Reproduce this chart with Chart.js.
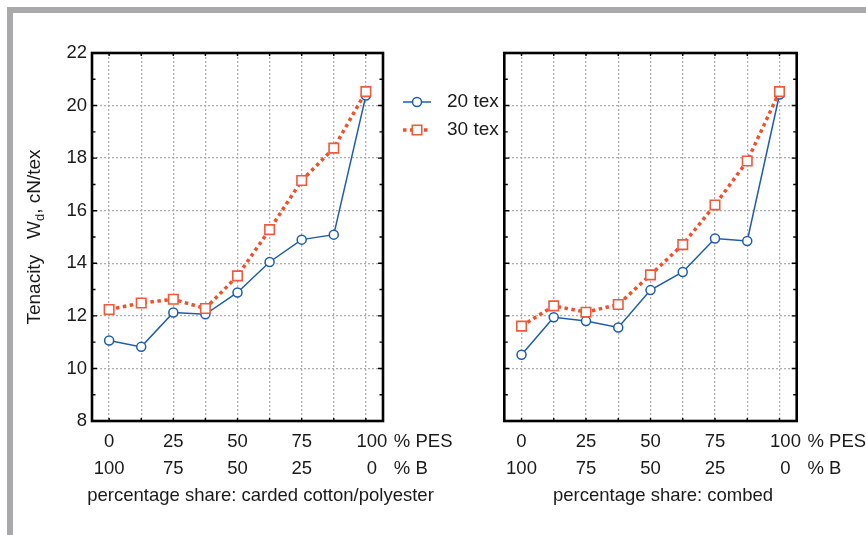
<!DOCTYPE html>
<html>
<head>
<meta charset="utf-8">
<script src="https://cdn.jsdelivr.net/npm/chart.js@4.4.0/dist/chart.umd.min.js"></script>
<style>
  body { margin: 0; background: #fff; width: 866px; height: 535px; overflow: hidden; position: relative; }
  #frame { position: absolute; left: 7px; top: 7px; width: 860px; height: 530px; border-left: 6px solid #a9a9ab; border-top: 6px solid #a9a9ab; }
  #c1 { position: absolute; left: 0; top: 0; }
  #c2 { position: absolute; left: 440px; top: 0; }
</style>
</head>
<body>
<div id="frame"></div>
<canvas id="c1" width="505" height="535"></canvas>
<canvas id="c2" width="426" height="535"></canvas>
<script>
// % PES share of each blend
const shares = [0, 12.5, 25, 37.5, 50, 62.5, 75, 87.5, 100];

// tenacity, cN/tex
const cardedTex20 = [11.06, 10.82, 12.13, 12.06, 12.89, 14.05, 14.90, 15.09, 20.38];
const cardedTex30 = [12.24, 12.49, 12.63, 12.28, 13.52, 15.28, 17.15, 18.38, 20.53];
const combedTex20 = [10.52, 11.95, 11.80, 11.56, 12.98, 13.67, 14.94, 14.85, 20.42];
const combedTex30 = [11.61, 12.38, 12.14, 12.43, 13.56, 14.71, 16.22, 17.89, 20.53];

// axis labels
const labelShares = [0, 25, 50, 75, 100];
const pesLabels = ['0', '25', '50', '75', '100'];
const bLabels = ['100', '75', '50', '25', '0'];
const yTicks = [8, 10, 12, 14, 16, 18, 20, 22];

const BLUE = '#1d5cae';
const RED = '#f2502a';
const FONT = '"Liberation Sans", Arial, sans-serif';
const TEXT = '#1a1a1a';

const points = (vals) => shares.map((s, i) => ({ x: s, y: vals[i] }));

// box, inward ticks, labels, legend
const frame = {
  id: 'frame',
  afterDraw(chart, args, opts) {
    const { ctx, chartArea: a, scales: { x, y } } = chart;
    ctx.save();
    ctx.strokeStyle = '#000';
    ctx.lineWidth = 1.4;
    ctx.beginPath();
    for (let v = 9; v < 22; v++) {
      const py = y.getPixelForValue(v);
      const len = v % 2 === 0 ? 5 : 3.5;
      ctx.moveTo(a.left, py); ctx.lineTo(a.left + len, py);
      ctx.moveTo(a.right, py); ctx.lineTo(a.right - len, py);
    }
    shares.forEach((v) => {
      const px = x.getPixelForValue(v);
      ctx.moveTo(px, a.top); ctx.lineTo(px, a.top + 3);
      ctx.moveTo(px, a.bottom); ctx.lineTo(px, a.bottom - 3);
    });
    ctx.stroke();

    ctx.lineWidth = 2.6;
    ctx.strokeRect(a.left, a.top, a.right - a.left, a.bottom - a.top);

    ctx.fillStyle = TEXT;
    ctx.font = '18.5px ' + FONT;
    ctx.textBaseline = 'middle';

    // y tick labels
    if (opts.yLabels) {
      ctx.textAlign = 'right';
      yTicks.forEach((v) => ctx.fillText(String(v), a.left - 5, y.getPixelForValue(v)));
    }

    // x tick labels, two rows
    ctx.textAlign = 'center';
    labelShares.forEach((v, i) => {
      const px = x.getPixelForValue(v) + (v === 100 ? 6 : 0);
      ctx.fillText(pesLabels[i], px, a.bottom + 21);
      ctx.fillText(bLabels[i], px, a.bottom + 48);
    });
    ctx.textAlign = 'left';
    const px100 = x.getPixelForValue(100);
    ctx.fillText('% PES', px100 + 28, a.bottom + 21);
    ctx.fillText('% B', px100 + 28, a.bottom + 48);

    // x title
    ctx.textAlign = 'center';
    ctx.fillText(opts.xTitle, (a.left + a.right) / 2 + opts.titleShift, a.bottom + 75);

    // y title with subscript
    if (opts.yLabels) {
      ctx.save();
      ctx.translate(35, (a.top + a.bottom) / 2);
      ctx.rotate(-Math.PI / 2);
      ctx.textAlign = 'left';
      const p1 = 'Tenacity   W', p2 = 'd', p3 = ', cN/tex';
      ctx.font = '19px ' + FONT;
      const w1 = ctx.measureText(p1).width, w3 = ctx.measureText(p3).width;
      ctx.font = '13px ' + FONT;
      const w2 = ctx.measureText(p2).width;
      const sx = -(w1 + w2 + w3) / 2;
      ctx.font = '19px ' + FONT;
      ctx.fillText(p1, sx, 0);
      ctx.font = '13px ' + FONT;
      ctx.fillText(p2, sx + w1, 5);
      ctx.font = '19px ' + FONT;
      ctx.fillText(p3, sx + w1 + w2, 0);
      ctx.restore();
    }

    // legend
    if (opts.legend) {
      const lx = 403, lw = 28, tx = 447;
      const rows = [
        { label: '20 tex', y: 102, ds: chart.data.datasets[1] },
        { label: '30 tex', y: 130, ds: chart.data.datasets[0] }
      ];
      rows.forEach((r) => {
        ctx.save();
        ctx.strokeStyle = r.ds.borderColor;
        ctx.lineWidth = r.ds.borderWidth;
        ctx.setLineDash(r.ds.borderDash || []);
        ctx.beginPath();
        ctx.moveTo(lx, r.y); ctx.lineTo(lx + lw, r.y);
        ctx.stroke();
        ctx.setLineDash([]);
        ctx.fillStyle = '#fff';
        ctx.strokeStyle = r.ds.pointBorderColor;
        ctx.lineWidth = r.ds.pointBorderWidth;
        Chart.helpers.drawPoint(ctx, {
          pointStyle: r.ds.pointStyle, radius: r.ds.pointRadius, rotation: 0, borderWidth: r.ds.pointBorderWidth
        }, lx + lw / 2, r.y);
        ctx.restore();
        ctx.fillStyle = TEXT;
        ctx.font = '19px ' + FONT;
        ctx.textAlign = 'left';
        ctx.fillText(r.label, tx, r.y);
      });
    }
    ctx.restore();
  }
};

function makeChart(id, tex20, tex30, opts) {
  return new Chart(document.getElementById(id), {
    type: 'line',
    data: {
      datasets: [
        {
          label: '30 tex',
          data: points(tex30),
          borderColor: RED,
          borderWidth: 3.5,
          borderDash: [3.5, 3.5],
          pointStyle: 'rect',
          pointRadius: 6.7,
          pointBorderWidth: 1.6,
          pointBackgroundColor: '#fff',
          pointBorderColor: '#f05a3c',
        },
        {
          label: '20 tex',
          data: points(tex20),
          borderColor: BLUE,
          borderWidth: 1.5,
          pointStyle: 'circle',
          pointRadius: 4.5,
          pointBorderWidth: 1.5,
          pointBackgroundColor: '#fff',
          pointBorderColor: BLUE,
        },
      ],
    },
    options: {
      responsive: false,
      animation: false,
      devicePixelRatio: 1,
      layout: { padding: opts.padding },
      plugins: {
        legend: { display: false },
        tooltip: { enabled: false },
        frame: opts,
      },
      scales: {
        x: {
          type: 'linear',
          min: -6.67,
          max: 106.67,
          afterBuildTicks: (s) => { s.ticks = shares.map((v) => ({ value: v })); },
          ticks: { display: false },
          grid: { color: '#b0b0b0', lineWidth: 1.3, drawTicks: false, tickLength: 0 },
          border: { display: false, dash: [2, 2] },
        },
        y: {
          min: 8,
          max: 22,
          afterBuildTicks: (s) => { s.ticks = yTicks.map((v) => ({ value: v })); },
          ticks: { display: false },
          grid: { color: '#b0b0b0', lineWidth: 1.3, drawTicks: false, tickLength: 0 },
          border: { display: false, dash: [2, 2] },
        },
      },
    },
    plugins: [frame],
  });
}

makeChart('c1', cardedTex20, cardedTex30, {
  padding: { left: 92, right: 122, top: 53, bottom: 114 },
  yLabels: true,
  legend: true,
  xTitle: 'percentage share: carded cotton/polyester',
  titleShift: 23,
});

makeChart('c2', combedTex20, combedTex30, {
  padding: { left: 64.3, right: 69.3, top: 53, bottom: 114 },
  yLabels: false,
  legend: false,
  xTitle: 'percentage share: combed',
  titleShift: 12.5,
});
</script>
</body>
</html>
